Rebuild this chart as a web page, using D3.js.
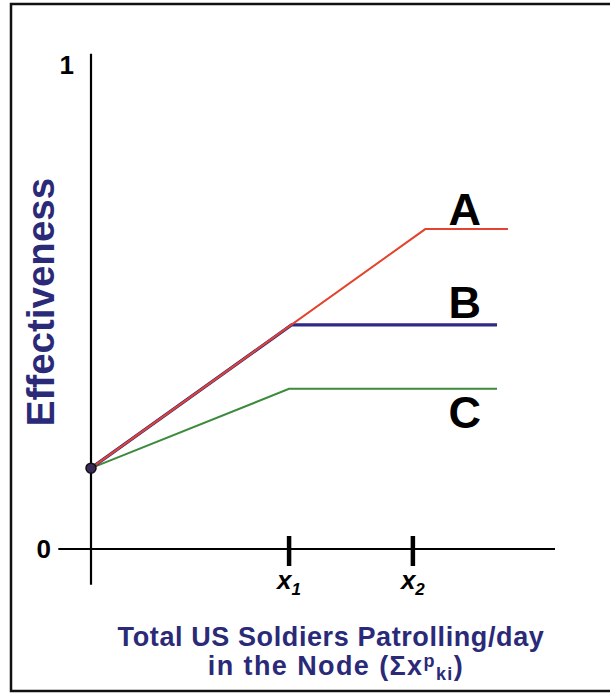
<!DOCTYPE html>
<html>
<head>
<meta charset="utf-8">
<script src="https://cdn.jsdelivr.net/npm/d3@7"></script>
<style>
  body { margin: 0; background: #fff; }
  text { font-family: "Liberation Sans", Arial, sans-serif; }
</style>
</head>
<body>
<script>
// data: piecewise effectiveness curves (x in arbitrary units, y 0..1)
const series = ["A", "B", "C"];
const seriesX = [
  [0, 6.75, 8.42],
  [0, 4.05, 8.2],
  [0, 4.0, 8.2]
];
const seriesY = [
  [0.167, 0.661, 0.661],
  [0.167, 0.463, 0.463],
  [0.167, 0.331, 0.331]
];
const xTicks = [4, 6.5];
const xTickLabels = ["1", "2"];
const yTicks = [0, 1];

var width = 610, height = 695;
var colors = ["#e4432d", "#2f2a86", "#3c8a3c"];
var widths = [2, 3.2, 2];

var x = d3.scaleLinear().domain([0, 9.37]).range([91, 555]);
var y = d3.scaleLinear().domain([0, 1]).range([549, 65]);

var svg = d3.select("body").append("svg")
    .attr("width", width)
    .attr("height", height);

// frame
svg.append("rect")
    .attr("x", 11).attr("y", 4)
    .attr("width", 610).attr("height", 687)
    .attr("fill", "none")
    .attr("stroke", "#111")
    .attr("stroke-width", 2.5);

// axes
svg.append("line")
    .attr("x1", x(0)).attr("x2", x(0))
    .attr("y1", y(1.023)).attr("y2", y(-0.074))
    .attr("stroke", "#000").attr("stroke-width", 2.2);
svg.append("line")
    .attr("x1", x(-0.66)).attr("x2", x(9.37))
    .attr("y1", y(0)).attr("y2", y(0))
    .attr("stroke", "#000").attr("stroke-width", 2.2);

// y tick labels
svg.selectAll(".ylab")
    .data(yTicks)
    .enter().append("text")
    .attr("class", "ylab")
    .attr("x", d => d === 1 ? 74 : 51)
    .attr("y", d => y(d) + 9)
    .attr("text-anchor", "end")
    .attr("font-size", 26)
    .attr("font-weight", "bold")
    .text(d => d);

// x ticks
svg.selectAll(".xtick")
    .data(xTicks)
    .enter().append("line")
    .attr("x1", d => x(d)).attr("x2", d => x(d))
    .attr("y1", y(0) - 13).attr("y2", y(0) + 17)
    .attr("stroke", "#000").attr("stroke-width", 4.5);

var xl = svg.selectAll(".xlab")
    .data(xTicks)
    .enter().append("text")
    .attr("x", d => x(d) - 12)
    .attr("y", y(0) + 40)
    .attr("font-size", 26)
    .attr("font-weight", "bold")
    .attr("font-style", "italic");
xl.append("tspan").text("x");
xl.append("tspan")
    .attr("dy", 6)
    .attr("font-size", 17)
    .text((d, i) => xTickLabels[i]);

// lines
var line = d3.line().x(d => x(d[0])).y(d => y(d[1]));
// draw C, B, then A on top
[2, 1, 0].forEach(i => {
  var pts = seriesX[i].map((v, j) => [v, seriesY[i][j]]);
  svg.append("path")
      .attr("d", line(pts))
      .attr("fill", "none")
      .attr("stroke", colors[i])
      .attr("stroke-width", widths[i]);
});

// starting point
svg.append("circle")
    .attr("cx", x(seriesX[0][0]))
    .attr("cy", y(seriesY[0][0]))
    .attr("r", 5)
    .attr("fill", "#3a2a5a")
    .attr("stroke", "#111")
    .attr("stroke-width", 1.5);

// series labels
var labelPos = [[7.55, 0.67], [7.55, 0.478], [7.55, 0.25]];
svg.selectAll(".slab")
    .data(series)
    .enter().append("text")
    .attr("x", (d, i) => x(labelPos[i][0]))
    .attr("y", (d, i) => y(labelPos[i][1]))
    .attr("text-anchor", "middle")
    .attr("font-size", 45)
    .attr("font-weight", "bold")
    .text(d => d);

// y axis title
svg.append("text")
    .attr("transform", "translate(54,302) rotate(-90)")
    .attr("text-anchor", "middle")
    .attr("font-size", 38.5)
    .attr("font-weight", "bold")
    .attr("fill", "#2b2a78")
    .text("Effectiveness");

// x axis title
svg.append("text")
    .attr("x", 331).attr("y", 646)
    .attr("text-anchor", "middle")
    .attr("font-size", 27)
    .attr("font-weight", "bold")
    .attr("letter-spacing", 0.6)
    .attr("fill", "#2b2a78")
    .text("Total US Soldiers Patrolling/day");

var t2 = svg.append("text")
    .attr("x", 336).attr("y", 675)
    .attr("text-anchor", "middle")
    .attr("font-size", 27)
    .attr("font-weight", "bold")
    .attr("letter-spacing", 1.4)
    .attr("fill", "#2b2a78");
t2.append("tspan").text("in the Node (Σx");
t2.append("tspan").attr("dy", -8).attr("font-size", 18).text("p");
t2.append("tspan").attr("dy", 13).attr("font-size", 18).text("ki");
t2.append("tspan").attr("dy", -5).text(")");
</script>
</body>
</html>
